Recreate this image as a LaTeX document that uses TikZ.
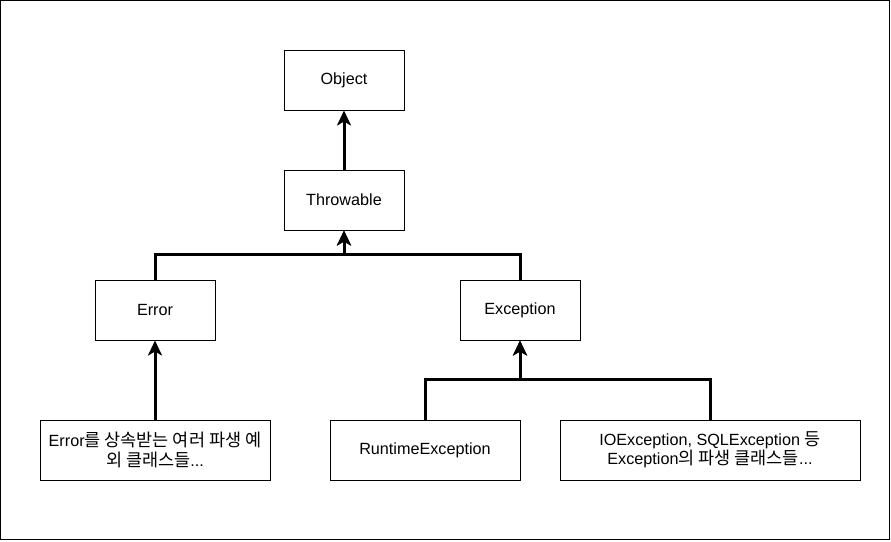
\documentclass[tikz,border=0pt]{standalone}
\usepackage{fontspec}
\setmainfont{Liberation Sans}
\newfontfamily\krfont{Noto Sans CJK KR}[Scale=1.08]
\newcommand{\kr}[1]{{\krfont #1}}
\usetikzlibrary{arrows.meta}
\begin{document}
\begin{tikzpicture}[x=1pt,y=-1pt,
  box/.style={draw=black,line width=1pt,fill=white,inner sep=0pt,align=center,font=\fontsize{16.2}{19.5}\selectfont},
  conn/.style={line width=3pt,-{Stealth[length=15pt,width=14pt,inset=4pt]}}]
\useasboundingbox (0,0) rectangle (891,541);
\draw[line width=1pt] (0.5,0.5) rectangle (889.5,539.5);
\node[box,minimum width=120pt,minimum height=60pt] (obj) at (344,80) {Object};
\node[box,minimum width=120pt,minimum height=60pt] (thr) at (344,200) {Throwable};
\node[box,minimum width=120pt,minimum height=60pt] (err) at (155,310) {Error};
\node[box,minimum width=120pt,minimum height=60pt] (exc) at (520,310) {Exception};
\node[box,minimum width=230pt,minimum height=60pt] (errsub) at (155,450) {Error\kr{를 상속받는 여러 파생 예}\\\kr{외 클래스들}...};
\node[box,minimum width=190pt,minimum height=60pt] (rte) at (425,450) {RuntimeException};
\node[box,minimum width=300pt,minimum height=60pt] (ioe) at (710,450) {IOException, SQLException \kr{등}\\Exception\kr{의 파생 클래스들}...};
\draw[conn] (thr.north) -- (obj.south);
\draw[conn] (err.north) -- ++(0,-25) -| (thr.south);
\draw[conn] (exc.north) -- ++(0,-25) -| (thr.south);
\draw[conn] (errsub.north) -- (err.south);
\draw[conn] (rte.north) -- ++(0,-40) -| (exc.south);
\draw[conn] (ioe.north) -- ++(0,-40) -| (exc.south);
\end{tikzpicture}
\end{document}
